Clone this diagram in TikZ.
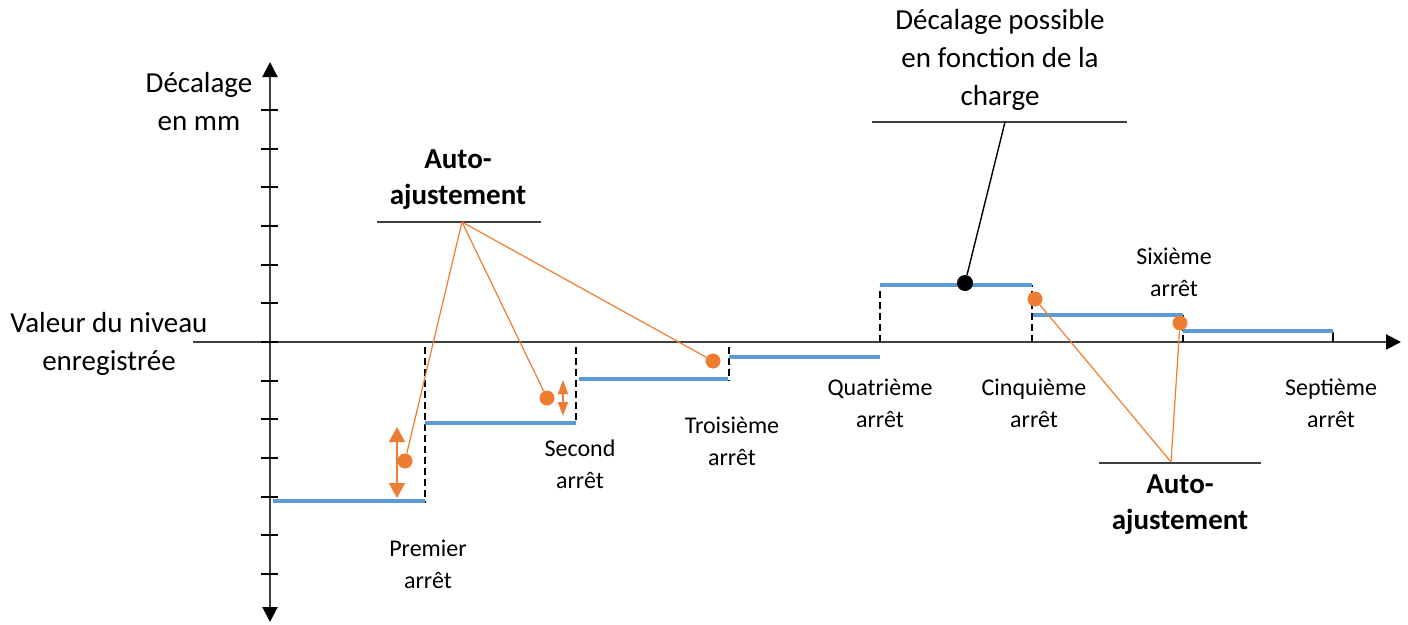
\documentclass[tikz,border=0pt]{standalone}
\usepackage{fontspec}
\setmainfont{Carlito}
\usetikzlibrary{arrows.meta}
\definecolor{stepblue}{HTML}{5B9BD5}
\definecolor{accent}{HTML}{ED7D31}
\definecolor{axisgray}{HTML}{404040}
\tikzset{axistip/.tip={Triangle[width=15pt,length=15pt,fill=black,color=black]}}

\begin{document}
\begin{tikzpicture}[x=1pt,y=-1pt,
  lbl/.style={align=center, font=\fontsize{24}{32}\selectfont, inner sep=0pt},
  big/.style={align=center, font=\fontsize{29}{38}\selectfont, inner sep=0pt},
  boldlbl/.style={align=center, font=\bfseries\fontsize{29}{36}\selectfont, inner sep=0pt},
  axisline/.style={axisgray, line width=2pt},
  level/.style={stepblue, line width=3.5pt},
  jump/.style={black, line width=2.3pt, dash pattern=on 7pt off 4pt},
  dot/.style={circle, fill=accent, minimum size=15pt, inner sep=0pt},
  blackdot/.style={circle, fill=black, minimum size=16pt, inner sep=0pt},
  leader/.style={accent, line width=1.2pt},
  underline/.style={axisgray, line width=1.5pt},
  rangearrow/.style={accent, line width=1.8pt},
]
\useasboundingbox (0,0) rectangle (1408,624);

% axes
\coordinate (ybot) at (270,622);
\coordinate (ytop) at (270,62);
\coordinate (xl) at (193,342);
\coordinate (xr) at (1401,342);
\draw[axisline, {axistip}-{axistip}] (ybot) -- (ytop);
\draw[axisline, -{axistip}] (xl) -- (xr);
\foreach \i in {-6,...,6}
  \draw[axisline, black] (261,342+38.67*\i) -- (278,342+38.67*\i);

% vertical jumps between levels
\draw[jump] (425,347) -- (425,503);
\draw[jump] (576,347) -- (576,424);
\draw[jump] (729,347) -- (729,381);
\draw[jump] (880,342) -- (880,287);
\draw[jump] (1032,342) -- (1032,285);
\draw[jump] (1183,342) -- (1183,315);
\draw[black, line width=2pt] (1333,342) -- (1333,332);

% recorded levels
\draw[level] (273,501) -- (425,501);
\draw[level] (425,423) -- (576,423);
\draw[level] (579,379) -- (728,379);
\draw[level] (729,357) -- (880,357);
\draw[level] (880,285) -- (1032,285);
\draw[level] (1033,315) -- (1183,315);
\draw[level] (1183,331) -- (1333,331);

% adjustment ranges
\coordinate (s1a) at (397,427);
\coordinate (s1b) at (397,498);
\coordinate (s2a) at (563,380);
\coordinate (s2b) at (563,416);
\draw[rangearrow, {Triangle[width=16pt,length=15pt]}-{Triangle[width=16pt,length=15pt]}] (s1a) -- (s1b);
\draw[rangearrow, line width=1.4pt, {Triangle[width=10pt,length=14pt]}-{Triangle[width=10pt,length=14pt]}] (s2a) -- (s2b);

% markers
\node[dot] (d1) at (405,461) {};
\node[dot] (d2) at (547,398) {};
\node[dot] (d3) at (713,361) {};
\node[dot] (d4) at (1035,299) {};
\node[dot] (d5) at (1180,323) {};
\node[blackdot] (b1) at (965,283) {};

% callouts
\draw[underline] (377,222) -- (541,222);
\coordinate (topo) at (462,222);
\draw[leader] (topo) -- (d1);
\draw[leader] (topo) -- (d2);
\draw[leader] (topo) -- (d3);

\draw[underline] (1099,463) -- (1261,463);
\coordinate (boto) at (1171,462);
\draw[leader] (boto) -- (d4);
\draw[leader] (boto) -- (d5);

\draw[underline] (872,122) -- (1127,122);
\coordinate (chargeo) at (1005,122);
\draw[black, line width=1.4pt] (chargeo) -- (b1);

% texts
\node[big] (ylab) at (199,102) {Décalage\\en mm};
\node[big] (xlab) at (109,344) {Valeur du niveau\\enregistrée};
\node[boldlbl] (autotop) at (458,180) {Auto-\\ajustement};
\node[boldlbl] (autobot) at (1180,505) {Auto-\\ajustement};
\node[big] (charge) at (1000,60) {Décalage possible\\en fonction de la\\charge};

\node[lbl] (t1) at (428,564) {Premier\\arrêt};
\node[lbl] (t2) at (580,464) {Second\\arrêt};
\node[lbl] (t3) at (732,441) {Troisième\\arrêt};
\node[lbl] (t4) at (880,403) {Quatrième\\arrêt};
\node[lbl] (t5) at (1034,403) {Cinquième\\arrêt};
\node[lbl] (t6) at (1174,272) {Sixième\\arrêt};
\node[lbl] (t7) at (1331,403) {Septième\\arrêt};
\end{tikzpicture}
\end{document}
